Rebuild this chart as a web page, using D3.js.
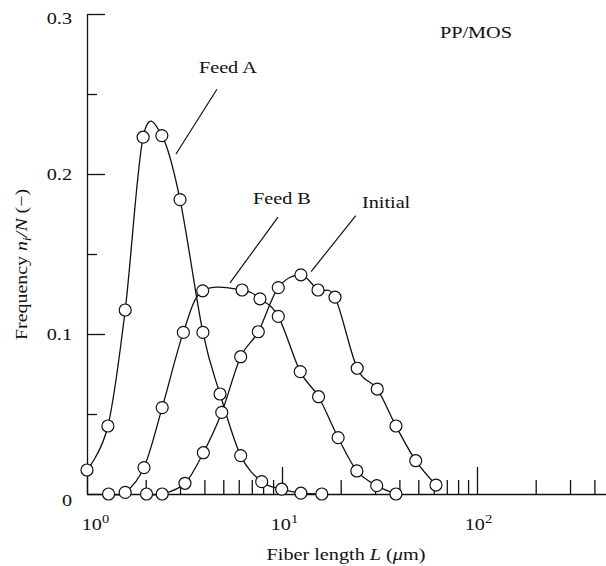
<!DOCTYPE html>
<html>
<head>
<meta charset="utf-8">
<script src="https://cdn.jsdelivr.net/npm/d3@7"></script>
<style>
  html, body { margin: 0; padding: 0; background: #fff; }
  svg { display: block; }
  text { font-family: "Liberation Serif", "Times New Roman", serif; fill: #111; }
</style>
</head>
<body>
<svg id="chart" width="606" height="566"></svg>
<script>
// Fiber length distributions, PP/MOS system
const feedA_L = [1.0, 1.28, 1.57, 1.94, 2.42, 3.0, 3.93, 4.81, 6.14, 7.87, 9.96, 12.5, 16.0];
const feedA_f = [0.015, 0.0425, 0.115, 0.223, 0.224, 0.184, 0.101, 0.0625, 0.024, 0.0077, 0.003, 0.0005, 0.0];

const feedB_L = [1.29, 1.57, 1.96, 2.43, 3.12, 3.92, 6.24, 7.71, 9.57, 12.4, 15.4, 19.4, 24.2, 30.6, 38.4];
const feedB_f = [0.0, 0.001, 0.0165, 0.054, 0.101, 0.127, 0.1275, 0.122, 0.111, 0.0765, 0.0608, 0.0352, 0.0144, 0.0052, 0.0];

const initial_L = [2.02, 2.43, 3.18, 3.95, 4.91, 6.14, 7.56, 9.57, 12.5, 15.3, 18.7, 24.3, 30.8, 38.4, 48.5, 61.6];
const initial_f = [0.0, 0.0, 0.0067, 0.0258, 0.051, 0.0858, 0.1014, 0.129, 0.137, 0.1275, 0.123, 0.0786, 0.0656, 0.0425, 0.0208, 0.0056];

const yMajorTicks = [0, 0.1, 0.2, 0.3];
const yMinorTicks = [0.05, 0.15, 0.25];
const xMajorTicks = [1, 10, 100];
const xMinorTicks = [2, 3, 4, 5, 6, 7, 8, 9, 20, 30, 40, 50, 60, 70, 80, 90, 200, 300, 400, 500];

const series = [
  { name: "Feed A", L: feedA_L, f: feedA_f },
  { name: "Feed B", L: feedB_L, f: feedB_f },
  { name: "Initial", L: initial_L, f: initial_f }
];

// Curve labels with leader lines, given in data units
const labels = [
  { text: "Feed A", at: [3.75, 0.263], from: [4.64, 0.253], to: [2.86, 0.2125] },
  { text: "Feed B", at: [7.10, 0.181], from: [9.54, 0.173], to: [5.41, 0.132] },
  { text: "Initial", at: [25.7, 0.179], from: [23.9, 0.174], to: [14.1, 0.139] }
];

const svg = d3.select("#chart");
const FS = 17;      // font size
const SX = 1.19;    // horizontal stretch of the typeface

// place a text element at (px, py) with the wide serif look
function place(sel, px, py, extra = "", sx = SX) {
  sel.attr("x", 0).attr("y", 0)
    .attr("transform", `translate(${px},${py}) ${extra} scale(${sx},1)`);
  return sel;
}

const x = d3.scaleLog().domain([1, 500]).range([87, 87 + 195 * Math.log10(500)]);
const y = d3.scaleLinear().domain([0, 0.3]).range([494, 14]);

// y axis
const gy = svg.append("g").attr("transform", `translate(${x(1)},0)`);
gy.call(d3.axisLeft(y).tickValues(yMajorTicks).tickSize(-18).tickSizeOuter(0)
  .tickFormat(d => d === 0 ? "0" : d3.format(".1f")(d)));
gy.append("g").call(d3.axisLeft(y).tickValues(yMinorTicks).tickSize(-10).tickSizeOuter(0).tickFormat(""))
  .select(".domain").remove();
const yLabelShift = { 0: 6, 0.3: 4 };
gy.selectAll(".tick text").each(function(d) {
  const t = d3.select(this).attr("font-size", FS).attr("font-family", "Liberation Serif")
    .attr("dy", "0.35em").attr("text-anchor", "end");
  place(t, -15, yLabelShift[d] || 0);
});

// x axis
const gx = svg.append("g").attr("transform", `translate(0,${y(0)})`);
gx.call(d3.axisBottom(x).tickValues(xMajorTicks).tickSize(-27).tickSizeOuter(0).tickFormat(""));
gx.append("g").call(d3.axisBottom(x).tickValues(xMinorTicks).tickSize(-14).tickSizeOuter(0).tickFormat(""))
  .select(".domain").remove();
const xLabelShift = { 1: 8, 10: 2, 100: 1 };
gx.selectAll(".tick").filter(d => xMajorTicks.includes(d)).each(function(d) {
  const t = d3.select(this).append("text")
    .attr("text-anchor", "middle").attr("font-size", FS).attr("fill", "#111");
  t.append("tspan").text("10");
  t.append("tspan").attr("font-size", FS * 0.72).attr("dy", -7).text(String(Math.round(Math.log10(d))));
  place(t, xLabelShift[d] || 0, 36);
});

svg.selectAll(".domain, .tick line").attr("stroke", "#111").attr("stroke-width", 1.3);

// curves and markers
const line = d3.line().x(d => x(d[0])).y(d => y(d[1])).curve(d3.curveCardinal.tension(0));
series.forEach(s => {
  const pts = s.L.map((L, i) => [L, s.f[i]]);
  svg.append("path").datum(pts)
    .attr("d", line).attr("fill", "none").attr("stroke", "#111").attr("stroke-width", 1.3);
});
series.forEach(s => {
  const pts = s.L.map((L, i) => [L, s.f[i]]);
  svg.append("g").selectAll("circle").data(pts).join("circle")
    .attr("cx", d => x(d[0])).attr("cy", d => y(d[1])).attr("r", 6)
    .attr("fill", "#fff").attr("stroke", "#111").attr("stroke-width", 1.2);
});

// labels
labels.forEach(l => {
  svg.append("line")
    .attr("x1", x(l.from[0])).attr("y1", y(l.from[1]))
    .attr("x2", x(l.to[0])).attr("y2", y(l.to[1]))
    .attr("stroke", "#111").attr("stroke-width", 1.2);
  place(svg.append("text").attr("font-size", FS).text(l.text), x(l.at[0]), y(l.at[1]));
});
place(svg.append("text").attr("font-size", FS).text("PP/MOS"), x(64.6), y(0.285));

// axis titles
const xt = svg.append("text").attr("text-anchor", "middle").attr("font-size", FS);
xt.append("tspan").text("Fiber length  ");
xt.append("tspan").attr("font-style", "italic").text("L");
xt.append("tspan").text(" (");
xt.append("tspan").attr("font-style", "italic").text("μ");
xt.append("tspan").text("m)");
place(xt, 346, 560);

const yt = svg.append("text").attr("text-anchor", "start").attr("font-size", FS);
yt.append("tspan").text("Frequency  ");
yt.append("tspan").attr("font-style", "italic").text("n");
yt.append("tspan").attr("font-style", "italic").attr("font-size", FS * 0.72).attr("dy", 4).text("i");
yt.append("tspan").attr("font-style", "italic").attr("dy", -4).text("/N");
yt.append("tspan").text(" (−)");
place(yt, 27, 340, "rotate(-90)", 1.17);
</script>
</body>
</html>
